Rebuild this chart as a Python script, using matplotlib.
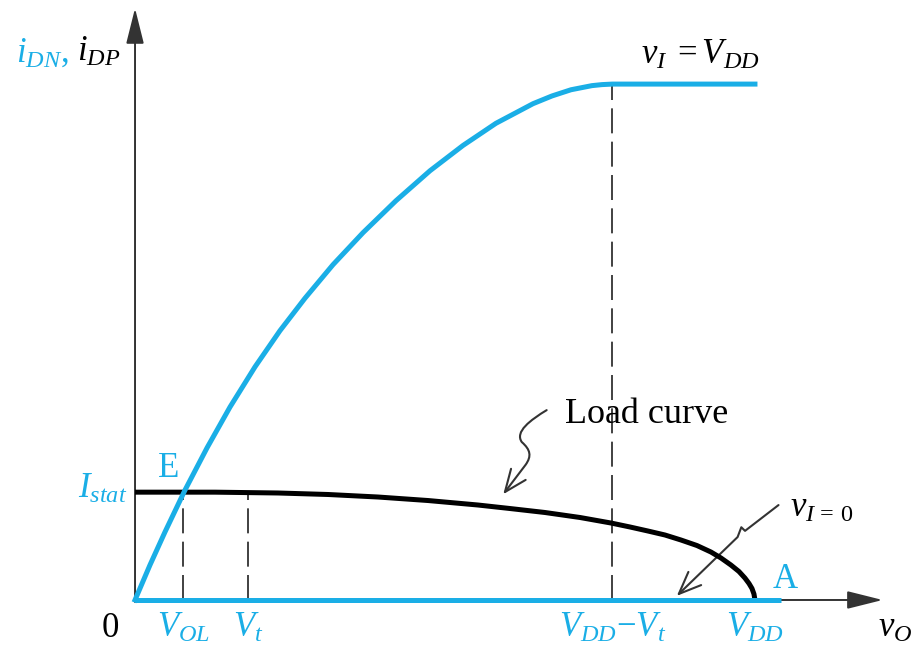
#!/usr/bin/env python3
"""CMOS inverter operating point: NMOS drain current for v_I = V_DD
against the PMOS load curve, plus the v_I = 0 case along the axis.

Writes out.png next to where it is run.
"""

import matplotlib.pyplot as plt
from matplotlib.patches import FancyArrowPatch
from matplotlib.path import Path

plt.rcParams["font.family"] = ["Liberation Serif", "DejaVu Serif"]
plt.rcParams["mathtext.fontset"] = "custom"
plt.rcParams["mathtext.rm"] = "Liberation Serif"
plt.rcParams["mathtext.it"] = "Liberation Serif:italic"
plt.rcParams["mathtext.bf"] = "Liberation Serif:bold"
plt.rcParams["lines.scale_dashes"] = False

BLUE = "#1aaee6"
INK = "#333333"

# characteristic voltages (arbitrary units, V_DD = 5)
V_OL = 0.39
V_T = 0.91
V_DD_MINUS_VT = 3.85
V_DD = 5.0
I_STAT = 0.209  # current normalised to the saturation level of the NMOS

# NMOS, v_I = V_DD: triode rise then saturation plateau
NMOS_V = [0.0, 0.121, 0.242, 0.403, 0.581, 0.766, 0.968, 1.169, 1.371, 1.597,
          1.839, 2.105, 2.379, 2.645, 2.911, 3.210, 3.363, 3.516, 3.685, 3.766,
          3.85, 5.0]
NMOS_I = [0.0, 0.068, 0.132, 0.213, 0.295, 0.374, 0.452, 0.522, 0.585, 0.650,
          0.712, 0.774, 0.832, 0.881, 0.924, 0.962, 0.977, 0.989, 0.997, 0.999,
          1.0, 1.0]

# PMOS load curve
LOAD_V = [0.0, 0.645, 1.153, 1.556, 1.960, 2.363, 2.766, 3.024, 3.306, 3.589,
          3.839, 3.992, 4.137, 4.274, 4.403, 4.532, 4.645, 4.726, 4.806, 4.871,
          4.919, 4.952, 4.976, 4.992, 5.0]
LOAD_I = [0.209, 0.209, 0.2074, 0.2045, 0.1996, 0.1928, 0.1841, 0.1773, 0.1696,
          0.1599, 0.1492, 0.1415, 0.1337, 0.126, 0.1163, 0.1056, 0.093, 0.0814,
          0.0678, 0.0552, 0.0426, 0.032, 0.0223, 0.0116, 0.0]

# NMOS, v_I = 0: no current
OFF_V = [0.0, 5.21]
OFF_I = [0.0, 0.0]

TICK_POS = [V_OL, V_T, V_DD_MINUS_VT, V_DD]
TICK_LABELS = [r"$V_{OL}$", r"$V_t$", r"$V_{DD}{-}V_t$", r"$V_{DD}$"]


def squiggle(ax, verts, codes):
    arrow = FancyArrowPatch(
        path=Path(verts, codes),
        arrowstyle="->,head_length=0.8,head_width=0.33",
        mutation_scale=20,
        color=INK,
        lw=1.5,
    )
    ax.add_patch(arrow)


def main():
    fig = plt.figure(figsize=(9.18, 6.49), dpi=100)
    ax = fig.add_axes([0, 0, 1, 1])
    ax.set_xlim(-1.089, 6.315)
    ax.set_ylim(-0.095, 1.163)
    ax.axis("off")

    # axes with arrow heads
    for start, tip in [((0.0, 0.0), (6.03, 0.0)), ((0.0, -0.004), (0.0, 1.147))]:
        ax.add_patch(FancyArrowPatch(
            start, tip,
            arrowstyle="-|>,head_length=2.2,head_width=0.55",
            mutation_scale=10, color=INK, lw=1.4, shrinkA=0, shrinkB=0,
        ))

    # dashed drop lines
    ax.vlines([V_OL, V_T], 0, I_STAT, colors=INK, lw=1.3, linestyles=(0, (18, 6)))
    ax.vlines([V_DD_MINUS_VT], 0, 1.0, colors=INK, lw=1.3, linestyles=(0, (18, 6)))

    ax.plot(LOAD_V, LOAD_I, color="black", lw=3.6, solid_joinstyle="round",
            solid_capstyle="butt", zorder=3)
    ax.plot(NMOS_V, NMOS_I, color=BLUE, lw=3.6, solid_joinstyle="round", zorder=4)
    ax.plot(OFF_V, OFF_I, color=BLUE, lw=3.6, solid_capstyle="butt", zorder=4)

    # callouts
    squiggle(ax,
             [(3.32, 0.368), (3.19, 0.349), (3.06, 0.326), (3.12, 0.306),
              (3.19, 0.291), (3.20, 0.279), (3.15, 0.262), (2.97, 0.205)],
             [Path.MOVETO, Path.CURVE4, Path.CURVE4, Path.CURVE4,
              Path.CURVE4, Path.CURVE4, Path.CURVE4, Path.LINETO])
    squiggle(ax,
             [(5.19, 0.184), (4.92, 0.134), (4.89, 0.141), (4.86, 0.122), (4.37, 0.008)],
             [Path.MOVETO, Path.LINETO, Path.LINETO, Path.LINETO, Path.LINETO])

    fs = 25
    ax.text(-0.96, 1.044, r"$i_{DN}$,", color=BLUE, fontsize=fs, ha="left", va="baseline")
    ax.text(-0.47, 1.044, r"$i_{DP}$", color="black", fontsize=fs, ha="left", va="baseline")
    ax.text(4.08, 1.039, r"$v_I\;{=}V_{DD}$", color="black", fontsize=fs, ha="left", va="baseline")
    ax.text(0.27, 0.238, "E", color=BLUE, fontsize=fs, ha="center", va="baseline")
    ax.text(-0.06, 0.198, r"$I_{stat}$", color=BLUE, fontsize=fs, ha="right", va="baseline")
    ax.text(3.47, 0.343, "Load curve", color="black", fontsize=26, ha="left", va="baseline")
    ax.text(5.28, 0.161, r"$v_{I\,{=}\,0}$", color="black", fontsize=fs, ha="left", va="baseline")
    ax.text(5.14, 0.023, "A", color=BLUE, fontsize=fs, ha="left", va="baseline")
    ax.text(-0.2, -0.072, "0", color="black", fontsize=fs, ha="center", va="baseline")
    for x, label in zip(TICK_POS, TICK_LABELS):
        ax.text(x, -0.072, label, color=BLUE, fontsize=fs, ha="center", va="baseline")
    ax.text(5.99, -0.072, r"$v_O$", color="black", fontsize=fs, ha="left", va="baseline")

    fig.savefig("out.png", dpi=100)
    plt.close(fig)


if __name__ == "__main__":
    main()
